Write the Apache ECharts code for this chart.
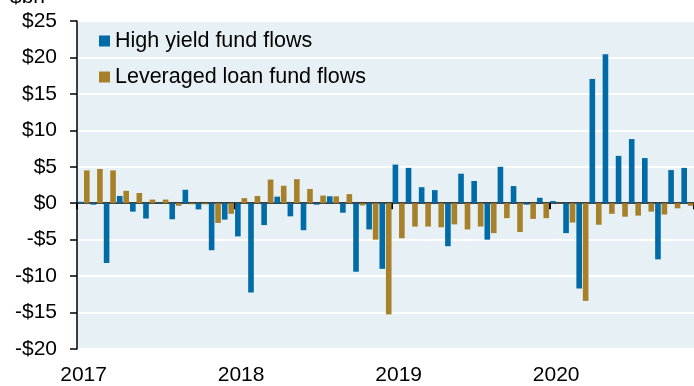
<!DOCTYPE html>
<html>
<head>
<meta charset="utf-8">
<script src="https://cdn.jsdelivr.net/npm/echarts@6/dist/echarts.min.js"></script>
<style>html,body{margin:0;padding:0;background:#fff}#c{width:694px;height:386px}</style>
</head>
<body>
<div id="c"></div>
<script>
var months = [
  'Jan 2017','Feb 2017','Mar 2017','Apr 2017','May 2017','Jun 2017','Jul 2017','Aug 2017','Sep 2017','Oct 2017','Nov 2017','Dec 2017',
  'Jan 2018','Feb 2018','Mar 2018','Apr 2018','May 2018','Jun 2018','Jul 2018','Aug 2018','Sep 2018','Oct 2018','Nov 2018','Dec 2018',
  'Jan 2019','Feb 2019','Mar 2019','Apr 2019','May 2019','Jun 2019','Jul 2019','Aug 2019','Sep 2019','Oct 2019','Nov 2019','Dec 2019',
  'Jan 2020','Feb 2020','Mar 2020','Apr 2020','May 2020','Jun 2020','Jul 2020','Aug 2020','Sep 2020','Oct 2020','Nov 2020'
];
var yearLabels = ['2017', '2018', '2019', '2020'];
var highYield = [
  0.2, -0.2, -8.2, 1.0, -1.15, -2.1, 0.1, -2.2, 1.85, -0.85, -6.45, -2.25,
  -4.55, -12.25, -3.0, 0.9, -1.8, -3.7, -0.2, 0.95, -1.3, -9.4, -3.6, -9.0,
  5.3, 4.85, 2.2, 1.8, -5.9, 4.05, 3.05, -5.0, 5.0, 2.35, -0.2, 0.75,
  0.3, -4.1, -11.7, 17.05, 20.45, 6.5, 8.8, 6.2, -7.7, 4.55, 4.85
];
var leveragedLoan = [
  4.5, 4.7, 4.5, 1.7, 1.4, 0.5, 0.5, -0.35, -0.15, -0.15, -2.7, -1.45,
  0.7, 1.0, 3.25, 2.4, 3.3, 1.95, 1.05, 0.95, 1.25, -0.3, -5.0, -15.25,
  -4.8, -3.2, -3.2, -3.3, -2.9, -3.6, -3.2, -4.1, -2.05, -3.95, -2.15, -2.05,
  -0.05, -2.65, -13.4, -2.95, -1.45, -1.85, -1.7, -1.15, -1.55, -0.7, -0.35
];
var yTicks = [-20, -15, -10, -5, 0, 5, 10, 15, 20, 25];

var FONT = '"Liberation Sans", Arial, Helvetica, sans-serif';
var chart = echarts.init(document.getElementById('c'), null, {renderer: 'canvas'});
chart.setOption({
  animation: false,
  backgroundColor: '#ffffff',
  grid: {
    left: 77, top: 21, width: 620, height: 329,
    show: true, backgroundColor: '#E7F0F4', borderWidth: 0,
    containLabel: false
  },
  graphic: [{
    type: 'text', left: 10, top: -13,
    style: {text: '$bn', font: '21px ' + FONT, fill: '#000'}
  }],
  legend: {
    orient: 'vertical', left: 94, top: 25, itemGap: 14,
    itemWidth: 11, itemHeight: 11, icon: 'rect',
    textStyle: {fontSize: 21.5, fontFamily: FONT, color: '#000'},
    data: ['High yield fund flows', 'Leveraged loan fund flows']
  },
  xAxis: [{
    type: 'category', data: months,
    axisLine: {onZero: true, lineStyle: {color: '#000', width: 1.5}},
    axisTick: {show: true, length: 6, lineStyle: {color: '#000', width: 2},
      interval: function (i) { return i % 12 === 0; }},
    axisLabel: {show: false},
    splitLine: {show: false}
  }, {
    type: 'category', data: months, position: 'bottom',
    axisLine: {show: false, onZero: false},
    axisTick: {show: false},
    axisLabel: {
      show: true, margin: 16, fontSize: 21, fontFamily: FONT, color: '#000',
      interval: function (i) { return i % 12 === 0; },
      formatter: function (v, i) { return yearLabels[Math.floor(i / 12)]; }
    }
  }],
  yAxis: {
    type: 'value', min: yTicks[0], max: yTicks[yTicks.length - 1], interval: 5,
    axisLine: {show: true, lineStyle: {color: '#000', width: 1.5}},
    axisTick: {show: true, length: 7, lineStyle: {color: '#000', width: 1.5}},
    axisLabel: {margin: 20, fontSize: 21, fontFamily: FONT, color: '#000',
      formatter: function (v) { return (v < 0 ? '-$' : '$') + Math.abs(v); }},
    splitLine: {show: true, lineStyle: {color: '#ffffff', width: 2}}
  },
  series: [{
    name: 'High yield fund flows', type: 'bar', data: highYield,
    itemStyle: {color: '#006BA6'}, barGap: '15%', barCategoryGap: '8%'
  }, {
    name: 'Leveraged loan fund flows', type: 'bar', data: leveragedLoan,
    itemStyle: {color: '#A6812A'}, barGap: '15%', barCategoryGap: '8%'
  }]
});
</script>
</body>
</html>
